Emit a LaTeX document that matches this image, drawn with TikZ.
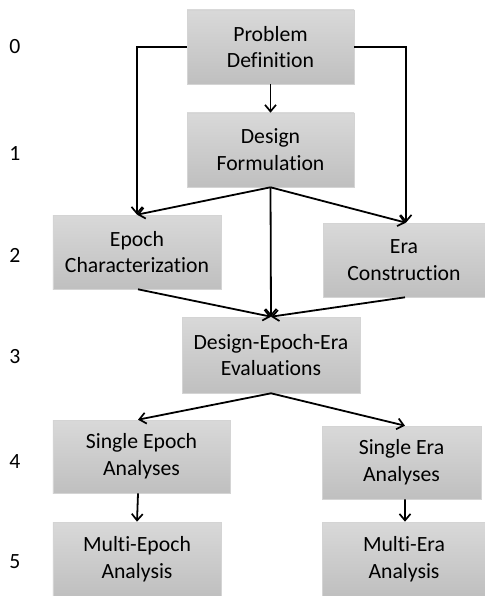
\documentclass[tikz,border=0pt]{standalone}
\usepackage{fontspec}
\setmainfont{Carlito}[Ligatures=NoCommon]
\usetikzlibrary{arrows.meta}
\begin{document}
\begin{tikzpicture}[x=1bp,y=-1bp,
  box/.style={draw=black!17, line width=0.6bp, top color=black!15, bottom color=black!25,
    align=center, inner sep=0pt, font=\fontsize{21.8}{27}\selectfont, text=black},
  lvl/.style={font=\fontsize{21.8}{27}\selectfont, text=black},
  conn/.style={line width=1.8bp, -{Straight Barb[length=6.5bp,width=11bp,line width=1.7bp]}},
  plain/.style={line width=1.8bp}]
\useasboundingbox (0,0) rectangle (485,596);
\begin{scope}
\clip (0,0) rectangle (485,596);
\node[box, minimum width=167bp, minimum height=74bp] (pd) at (270.5,47) {Problem\\Definition};
\node[box, minimum width=167bp, minimum height=74bp] (df) at (270.5,150) {Design\\Formulation};
\node[box, minimum width=168bp, minimum height=74bp] (ec) at (137,252) {Epoch\\Characterization};
\node[box, minimum width=162bp, minimum height=74bp] (er) at (404,260) {Era\\Construction};
\node[box, minimum width=178bp, minimum height=76bp] (dee) at (271,355) {Design-Epoch-Era\\Evaluations};
\node[box, minimum width=177bp, minimum height=73bp] (se) at (141.5,456.5) {Single Epoch\\Analyses};
\node[box, minimum width=159bp, minimum height=73bp] (sa) at (401.5,462.5) {Single Era\\Analyses};
\node[box, minimum width=168bp, minimum height=74bp] (me) at (137,559) {Multi-Epoch\\Analysis};
\node[box, minimum width=164bp, minimum height=74bp] (ma) at (404,559) {Multi-Era\\Analysis};
\end{scope}
\node[lvl] (l0) at (15,47) {0};
\node[lvl] (l1) at (15,154) {1};
\node[lvl] (l2) at (15,255) {2};
\node[lvl] (l3) at (15,357) {3};
\node[lvl] (l4) at (15,462) {4};
\node[lvl] (l5) at (15,562) {5};
\coordinate (ectop) at ([xshift=0]ec.north);
\coordinate (ertop) at ([xshift=2]er.north);
\draw[conn] (pd.west) -| (ectop);
\draw[conn] (pd.east) -| (ertop);
\draw[conn] (pd.south) -- (df.north);
\draw[conn] (df.south) -- (ectop);
\draw[conn] (df.south) -- (dee.north);
\draw[conn] (df.south) -- (ertop);
\draw[conn] ([xshift=1]ec.south) -- (dee.north);
\draw[conn] ([xshift=1]er.south) -- (dee.north);
\coordinate (setop) at ([xshift=-3.5]se.north);
\coordinate (satop) at ([xshift=3.5]sa.north);
\draw[conn] (dee.south) -- (setop);
\draw[conn] (dee.south) -- (satop);
\draw[conn] ([xshift=-3.5]se.south) -- (me.north);
\draw[conn] ([xshift=3.5]sa.south) -- ([xshift=1]ma.north);
\end{tikzpicture}
\end{document}
